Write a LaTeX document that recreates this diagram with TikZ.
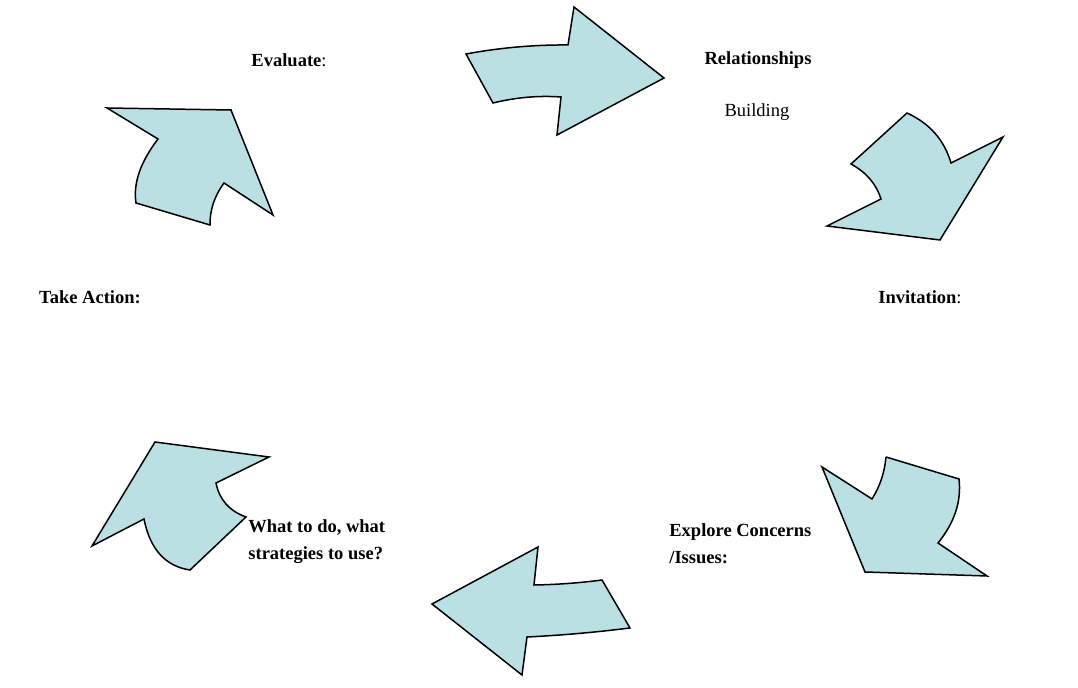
\documentclass[tikz,border=0pt]{standalone}
\usepackage{fontspec}
\setmainfont{Liberation Serif}
\definecolor{arrowblue}{RGB}{187,224,227}
\begin{document}
\begin{tikzpicture}[x=0.5pt,y=-0.5pt,
  cyclearrow/.style={fill=arrowblue, draw=black, line width=0.75pt, line join=miter},
  lbl/.style={inner sep=0pt, font=\fontsize{9.25}{13.5}\selectfont},
  lblleft/.style={lbl, anchor=west, align=left}]
\useasboundingbox (0,0) rectangle (1078,688);
% arrows, clockwise from the top
\draw [cyclearrow] (466,54) .. controls (500,47.7) and (534,44.7) .. (568,45) -- (574,7) -- (664,78) -- (557,135) -- (561,97) .. controls (538.3,95.4) and (515.7,97.4) .. (493,103) -- cycle;
\draw [cyclearrow] (907,113) .. controls (929.7,123.4) and (944.3,140) .. (951,163) -- (1003,137) -- (940,240) -- (827,226) -- (881,199) .. controls (876.3,184) and (866.3,172.4) .. (851,164) -- cycle;
\draw [cyclearrow] (886,457) -- (959,479) .. controls (961.6,501.2) and (954.6,522.6) .. (938,543) -- (987,576) -- (865,572) -- (822,467) -- (872,499) .. controls (880,486.3) and (884.6,472.3) .. (886,457);
\draw [cyclearrow] (630,628) .. controls (595.7,632.3) and (561.3,635.3) .. (527,637) -- (522,675) -- (432,604) -- (538,547) -- (534,585) .. controls (556.7,584.6) and (579.3,583) .. (602,580) -- cycle;
\draw [cyclearrow] (190,570) .. controls (165.4,566.3) and (150,549.3) .. (144,519) -- (92,546) -- (155,442) -- (269,457) -- (216,483) .. controls (219.3,499.6) and (229.3,511) .. (246,517) -- cycle;
\draw [cyclearrow] (136,203) .. controls (133,183.4) and (140.4,162) .. (158,139) -- (107,108) -- (231,110) -- (273,215) -- (224,183) .. controls (214.4,196.1) and (209.8,210.1) .. (210,225) -- cycle;
% labels
\node [lbl] (evaluate) at (289,60) {\textbf{Evaluate}:};
\node [lbl] (relationships) at (758,60) {\textbf{Relationships}};
\node [lbl] (building) at (757,112) {Building};
\node [lbl] (action) at (90,297) {\textbf{Take Action:}};
\node [lbl] (invitation) at (920,297) {\textbf{Invitation}:};
\node [lblleft] (strategies) at (248,541.5) {\textbf{What to do, what}\\\textbf{strategies to use?}};
\node [lblleft] (concerns) at (669,543.5) {\textbf{Explore Concerns}\\\textbf{/Issues:}};
\end{tikzpicture}
\end{document}
